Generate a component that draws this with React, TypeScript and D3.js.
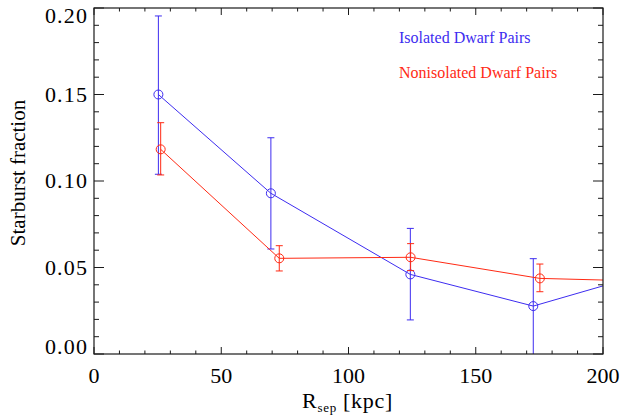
import React from "react";
import * as d3 from "d3";

const isoX = [25.3, 69.5, 124.3, 172.6, 225];
const isoY = [0.150, 0.0929, 0.046, 0.0277, 0.050];
const isoLo = [0.1039, 0.0607, 0.0197, -0.002, null];
const isoHi = [0.1954, 0.125, 0.0726, 0.0551, null];

const nonX = [26.2, 72.8, 124.4, 175.2, 225];
const nonY = [0.1183, 0.0553, 0.0559, 0.0437, 0.0418];
const nonLo = [0.1035, 0.048, 0.0482, 0.036, null];
const nonHi = [0.1337, 0.0626, 0.0638, 0.052, null];

const xTicks = [0, 50, 100, 150, 200];
const yTicks = [0.0, 0.05, 0.1, 0.15, 0.2];
const yTickLabels = ["0.00", "0.05", "0.10", "0.15", "0.20"];

const BLUE = "#3d2cf0";
const RED = "#ff2a14";

export default function App() {
  const W = 621, H = 417;
  const L = 94, R = 603, T = 8, B = 354;
  const x = d3.scaleLinear().domain([0, 200]).range([L, R]);
  const y = d3.scaleLinear().domain([0, 0.2]).range([B, T]);

  const mkLine = (xs: number[], ys: number[]) =>
    d3.line<[number, number]>().x((d) => x(d[0])).y((d) => y(d[1]))(xs.map((v, i) => [v, ys[i]] as [number, number])) || "";

  const xMinor = d3.range(0, 201, 10);
  const yMinor = d3.range(0, 0.2001, 0.01);

  const series = [
    { xs: isoX, ys: isoY, lo: isoLo, hi: isoHi, c: BLUE },
    { xs: nonX, ys: nonY, lo: nonLo, hi: nonHi, c: RED },
  ];

  const font = '"Liberation Serif", "Times New Roman", Times, "DejaVu Serif", serif';
  const fs = { fontFamily: font };
  const axisC = "#1a1a1a";

  return (
    <svg width={W} height={H} style={{ position: "absolute", left: 0, top: 0, background: "#fff", fontFamily: font }}>
      <defs>
        <clipPath id="pa">
          <rect x={L} y={T} width={R - L} height={B - T} />
        </clipPath>
      </defs>
      <rect x={0} y={0} width={W} height={H} fill="#fff" />
      <g clipPath="url(#pa)">
        {series.map((s, si) => (
          <g key={si} stroke={s.c} fill="none" strokeWidth={1}>
            <path d={mkLine(s.xs, s.ys)} />
            {s.xs.map((xv, i) =>
              s.lo[i] == null ? null : (
                <g key={i}>
                  <line x1={x(xv)} x2={x(xv)} y1={y(s.lo[i] as number)} y2={y(s.hi[i] as number)} />
                  <line x1={x(xv) - 3.5} x2={x(xv) + 3.5} y1={y(s.hi[i] as number)} y2={y(s.hi[i] as number)} />
                  <line x1={x(xv) - 3.5} x2={x(xv) + 3.5} y1={y(s.lo[i] as number)} y2={y(s.lo[i] as number)} />
                </g>
              )
            )}
            {s.xs.map((xv, i) => (
              <circle key={"c" + i} cx={x(xv)} cy={y(s.ys[i])} r={4.5} />
            ))}
          </g>
        ))}
      </g>
      <rect x={L} y={T} width={R - L} height={B - T} fill="none" stroke={axisC} strokeWidth={1.2} />
      {xMinor.map((v) => {
        const major = v % 50 === 0;
        const len = major ? 7 : 3.5;
        return (
          <g key={"xt" + v} stroke={axisC} strokeWidth={1}>
            <line x1={x(v)} x2={x(v)} y1={B} y2={B - len} />
            <line x1={x(v)} x2={x(v)} y1={T} y2={T + len} />
          </g>
        );
      })}
      {yMinor.map((v, i) => {
        const major = i % 5 === 0;
        const len = major ? 10 : 5;
        return (
          <g key={"yt" + i} stroke={axisC} strokeWidth={1}>
            <line x1={L} x2={L + len} y1={y(v)} y2={y(v)} />
            <line x1={R} x2={R - len} y1={y(v)} y2={y(v)} />
          </g>
        );
      })}
      {xTicks.map((v) => (
        <text key={"xl" + v} x={x(v)} y={383} textAnchor="middle" fontSize={22} fill="#000" style={fs}>
          {v}
        </text>
      ))}
      {yTicks.map((v, i) => {
        let cy = y(v);
        if (i === yTicks.length - 1) cy += 8;
        if (i === 0) cy -= 7.3;
        return (
          <text key={"yl" + i} x={88.2} y={cy + 7.2} textAnchor="end" fontSize={22} letterSpacing={1.2} fill="#000" style={fs}>
            {yTickLabels[i]}
          </text>
        );
      })}
      <text x={(L + R) / 2 - 1} y={408} textAnchor="middle" fontSize={22} letterSpacing={0.7} fill="#000" style={fs}>
        R<tspan fontSize={13} dy={3.5}>sep</tspan>
        <tspan dy={-3.5}> [kpc]</tspan>
      </text>
      <text transform={`translate(25,173) rotate(-90)`} textAnchor="middle" fontSize={21} fill="#000" style={fs}>
        Starburst fraction
      </text>
      <text x={399} y={42.5} fontSize={16} fill={BLUE} style={fs}>Isolated Dwarf Pairs</text>
      <text x={399} y={77.5} fontSize={16} fill={RED} style={fs}>Nonisolated Dwarf Pairs</text>
    </svg>
  );
}
